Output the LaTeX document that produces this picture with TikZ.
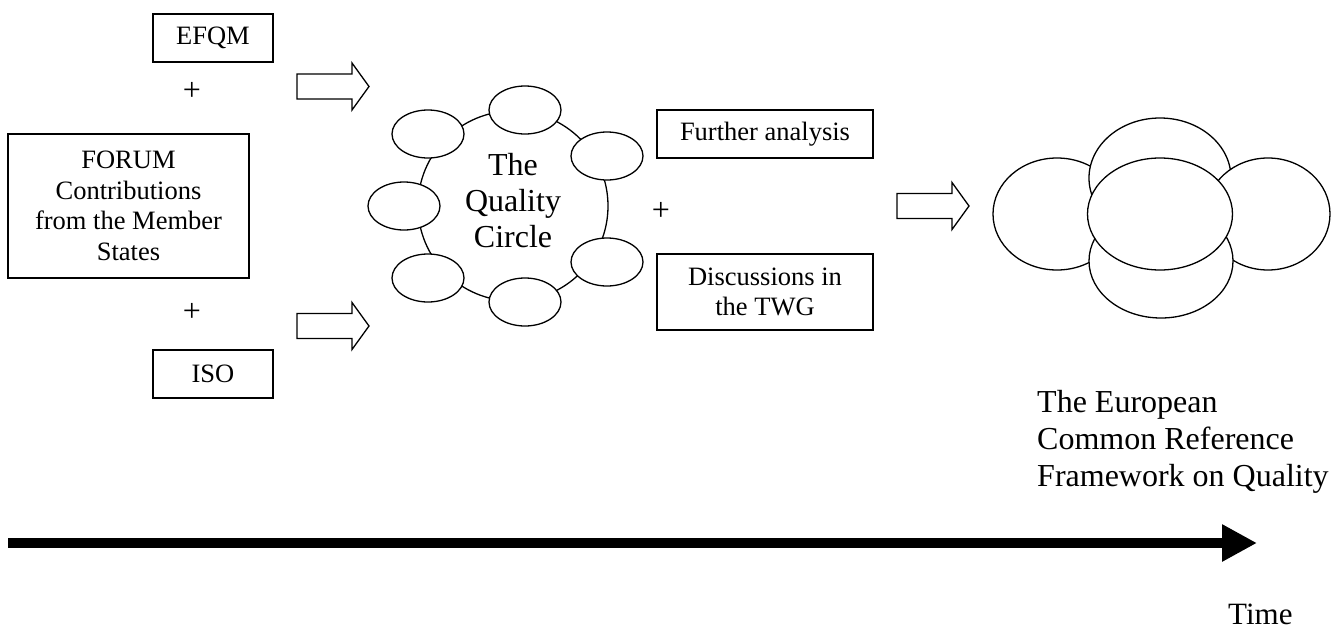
\documentclass[tikz,border=0pt]{standalone}
\usepackage{fontspec}
\setmainfont{Liberation Serif}
\usetikzlibrary{shapes.geometric,arrows.meta}
\tikzset{
  box/.style={draw, line width=1.3pt, rectangle, inner sep=0pt, align=center,
    font=\fontsize{26.5}{30.5}\selectfont},
  bubble/.style={draw, ellipse, fill=white, line width=1.3pt, inner sep=0pt},
  plussign/.style={font=\fontsize{32}{36}\selectfont, inner sep=0pt},
  bigtext/.style={font=\fontsize{32}{37}\selectfont, inner sep=0pt},
  blockarrow/.pic={
    \draw[line width=1.3pt, fill=white] (0,-12.5) -- (55,-12.5) -- (55,-23.5) -- (72,0)
      -- (55,23.5) -- (55,12.5) -- (0,12.5) -- cycle;
  }
}
\begin{document}
\begin{tikzpicture}[x=1pt,y=-1pt]
\useasboundingbox (0,0) rectangle (1331,632);

% left input boxes
\node[box, minimum width=120pt, minimum height=48pt] (efqm) at (213,38) {EFQM};
\node[plussign] (p1) at (192,91) {+};
\node[box, minimum width=241pt, minimum height=144pt] (forum) at (128.5,206)
  {FORUM\\Contributions\\from the Member\\States};
\node[plussign] (p2) at (192,312) {+};
\node[box, minimum width=120pt, minimum height=48pt] (iso) at (213,374) {ISO};

% block arrows
\pic (a1) at (297,86.5) {blockarrow};
\pic (a2) at (297,326) {blockarrow};
\pic (a3) at (897,206) {blockarrow};

% quality circle
\node[draw, circle, line width=1.3pt, minimum size=190pt, inner sep=0pt] (ring) at (513,206) {};
\node[bubble, minimum width=72pt, minimum height=48pt] (q1) at (525,110) {};
\node[bubble, minimum width=72pt, minimum height=48pt] (q2) at (607,156) {};
\node[bubble, minimum width=72pt, minimum height=48pt] (q3) at (607,262) {};
\node[bubble, minimum width=72pt, minimum height=48pt] (q4) at (525,302) {};
\node[bubble, minimum width=72pt, minimum height=48pt] (q5) at (428,278) {};
\node[bubble, minimum width=72pt, minimum height=48pt] (q6) at (404,206) {};
\node[bubble, minimum width=72pt, minimum height=48pt] (q7) at (428,134) {};
\node[bigtext, align=center, font=\fontsize{32}{36}\selectfont] (qc) at (513,201) {The\\Quality\\Circle};

% right boxes
\node[box, minimum width=216pt, minimum height=48pt] (further) at (765,134) {Further analysis};
\node[plussign] (p3) at (661,211) {+};
\node[box, minimum width=216pt, minimum height=76pt] (disc) at (765,292) {Discussions in\\the TWG};

% cloud
\node[bubble, minimum width=128pt, minimum height=112pt] (cl) at (1057,214) {};
\node[bubble, minimum width=142pt, minimum height=120pt] (ct) at (1160,178) {};
\node[bubble, minimum width=124pt, minimum height=112pt] (cr) at (1268,214) {};
\node[bubble, minimum width=144pt, minimum height=114pt] (cb) at (1161,261) {};
\node[bubble, minimum width=145pt, minimum height=112pt] (cc) at (1160,214) {};

\node[bigtext, align=left, anchor=west] (ecrf) at (1037,442)
  {The European\\Common Reference\\Framework on Quality};

% time axis
\coordinate (tstart) at (8,543);
\coordinate (tend) at (1257,543);
\draw[line width=10pt, -{Triangle[length=35pt,width=35pt]}] (tstart) -- (tend);
\node[font=\fontsize{31}{35}\selectfont, anchor=base west, inner sep=0pt] (time) at (1228,624) {Time};
\end{tikzpicture}
\end{document}
